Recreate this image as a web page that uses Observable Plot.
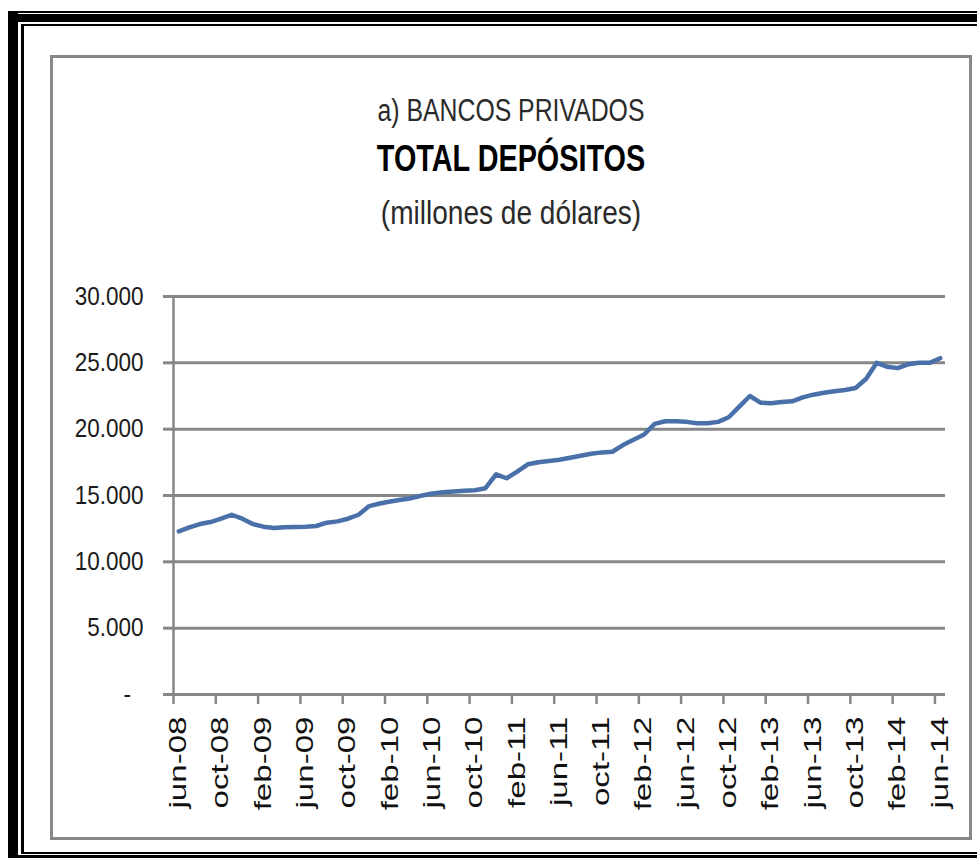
<!DOCTYPE html>
<html>
<head>
<meta charset="utf-8">
<script src="https://cdn.jsdelivr.net/npm/d3@7"></script>
<script src="https://cdn.jsdelivr.net/npm/@observablehq/plot@0.6"></script>
<style>
  html, body { margin: 0; padding: 0; background: #fff; }
  #page { position: relative; width: 977px; height: 858px; overflow: hidden; background: #fff;
          font-family: "Liberation Sans", Arial, sans-serif; }
  .b { position: absolute; background: #000; }
  #box { position: absolute; left: 50px; top: 55px; width: 922px; height: 785px;
         border: 3px solid #878787; box-sizing: border-box; }
  .t { position: absolute; left: 50px; width: 922px; text-align: center; white-space: nowrap;
       transform-origin: 461px 50%; }
  #chart { position: absolute; left: 56px; top: 250px; }
</style>
</head>
<body>
<div id="page">
  <div class="b" style="left:8px;top:11px;width:969px;height:2px"></div>
  <div class="b" style="left:8px;top:14px;width:969px;height:8px"></div>
  <div class="b" style="left:21px;top:24px;width:956px;height:2px"></div>
  <div class="b" style="left:8px;top:11px;width:10px;height:847px"></div>
  <div class="b" style="left:21px;top:24px;width:3px;height:830px"></div>
  <div class="b" style="left:21px;top:852px;width:956px;height:2px"></div>
  <div class="b" style="left:8px;top:855px;width:969px;height:3px"></div>
  <div id="box"></div>
  <div class="t" id="t1" style="top:95px;font-size:31px;line-height:31px;color:#2a2a2a;transform:scaleX(0.8)"></div>
  <div class="t" id="t2" style="top:141px;font-size:36px;line-height:36px;font-weight:bold;color:#000;transform:scaleX(0.8)"></div>
  <div class="t" id="t3" style="top:196px;font-size:33px;line-height:33px;color:#2a2a2a;transform:scaleX(0.85)"></div>
  <div id="chart"></div>
</div>
<script>
// ---- data ----
const titleLine1 = "a) BANCOS PRIVADOS";
const titleLine2 = "TOTAL DEPÓSITOS";
const titleLine3 = "(millones de dólares)";

const months = ["jun-08","jul-08","ago-08","sep-08","oct-08","nov-08","dic-08",
  "ene-09","feb-09","mar-09","abr-09","may-09","jun-09","jul-09","ago-09","sep-09","oct-09","nov-09","dic-09",
  "ene-10","feb-10","mar-10","abr-10","may-10","jun-10","jul-10","ago-10","sep-10","oct-10","nov-10","dic-10",
  "ene-11","feb-11","mar-11","abr-11","may-11","jun-11","jul-11","ago-11","sep-11","oct-11","nov-11","dic-11",
  "ene-12","feb-12","mar-12","abr-12","may-12","jun-12","jul-12","ago-12","sep-12","oct-12","nov-12","dic-12",
  "ene-13","feb-13","mar-13","abr-13","may-13","jun-13","jul-13","ago-13","sep-13","oct-13","nov-13","dic-13",
  "ene-14","feb-14","mar-14","abr-14","may-14","jun-14"];

const deposits = [12300,12600,12850,13000,13250,13550,13250,
  12850,12650,12550,12600,12620,12650,12700,12950,13050,13250,13550,14200,
  14400,14550,14680,14800,15000,15150,15250,15300,15350,15400,15550,16600,
  16300,16800,17350,17500,17600,17700,17850,18000,18150,18250,18300,18800,
  19200,19600,20400,20600,20600,20550,20450,20450,20550,20900,21700,22500,
  22000,21950,22050,22100,22400,22600,22750,22850,22950,23100,23800,25000,
  24700,24600,24900,25000,25000,25350];

const xTickLabels = ["jun-08","oct-08","feb-09","jun-09","oct-09","feb-10","jun-10","oct-10",
  "feb-11","jun-11","oct-11","feb-12","jun-12","oct-12","feb-13","jun-13","oct-13","feb-14","jun-14"];

const yTicks = [0, 5000, 10000, 15000, 20000, 25000, 30000];
const yTickLabels = ["-\u00a0\u00a0", "5.000", "10.000", "15.000", "20.000", "25.000", "30.000"];

// ---- build ----
document.getElementById("t1").textContent = titleLine1;
document.getElementById("t2").textContent = titleLine2;
document.getElementById("t3").textContent = titleLine3;

const gridColor = "#878787";
const lineColor = "#4a70aa";
const xDomain = [-0.5, months.length - 0.5];
const labelPos = xTickLabels.map(l => months.indexOf(l));
const boundaryPos = labelPos.map(i => i - 0.5);

const chart = Plot.plot({
  width: 910,
  height: 585,
  marginLeft: 117,
  marginRight: 21,
  marginTop: 46,
  marginBottom: 141,
  style: {fontFamily: "'Liberation Sans', Arial, sans-serif", background: "transparent", overflow: "visible"},
  x: {type: "linear", domain: xDomain},
  y: {domain: [0, 30000]},
  marks: [
    Plot.gridY(yTicks, {stroke: gridColor, strokeOpacity: 1, strokeWidth: 3}),
    Plot.axisY(yTicks, {tickSize: 10, tickPadding: 20, stroke: gridColor, strokeWidth: 3,
      fill: "#1a1a1a", fontSize: 25, tickFormat: d => yTickLabels[yTicks.indexOf(d)], label: null}),
    Plot.ruleX([xDomain[0]], {stroke: gridColor, strokeWidth: 2.5}),
    Plot.axisX(boundaryPos, {tickSize: 10, stroke: gridColor, strokeWidth: 2.5, tickFormat: () => "", label: null}),
    Plot.axisX(labelPos, {tickSize: 0, tickPadding: 22, tickRotate: -90, fontSize: 23, fill: "#111",
      tickFormat: i => months[i], label: null}),
    Plot.line(deposits, {x: (d, i) => i, y: d => d, stroke: lineColor, strokeWidth: 4.5,
      strokeLinejoin: "round", strokeLinecap: "round"})
  ]
});

// stretch texts to mimic the original (vertically stretched) rendering
function stretch(texts, sx, sy) {
  texts.forEach(t => {
    let tr = t.getAttribute("transform");
    if (!tr || tr.indexOf("translate") < 0) {
      const x = parseFloat(t.getAttribute("x")) || 0;
      const y = parseFloat(t.getAttribute("y")) || 0;
      t.removeAttribute("x");
      t.removeAttribute("y");
      tr = `translate(${x},${y}) ` + (tr || "");
    }
    t.setAttribute("transform", tr + ` scale(${sx},${sy})`);
  });
}
const allTexts = Array.from(chart.querySelectorAll("text"));
stretch(allTexts.filter(t => months.includes(t.textContent)), 1.44, 1);
stretch(allTexts.filter(t => yTickLabels.includes(t.textContent)), 0.9, 1);

document.getElementById("chart").appendChild(chart);
</script>
</body>
</html>
